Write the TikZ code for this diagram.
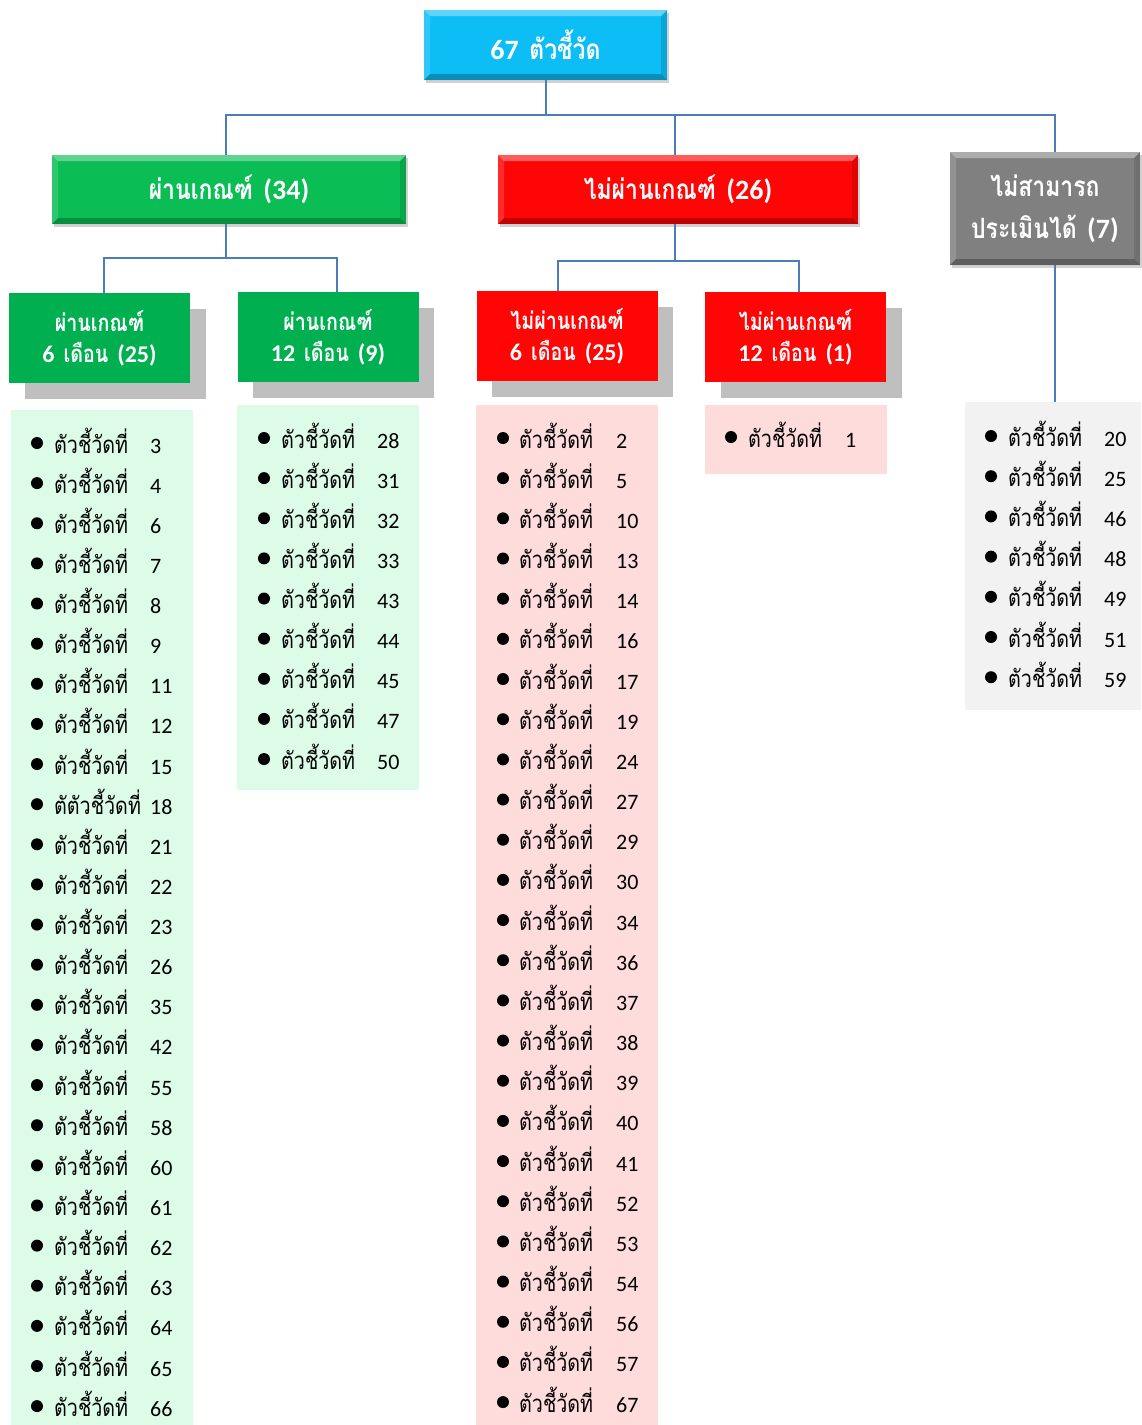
\documentclass[tikz,border=0pt]{standalone}
\usepackage{fontspec}
\usepackage{graphicx}
\usetikzlibrary{shadows,calc}
\newfontfamily\thai[Script=Thai]{Loma}
\newfontfamily\lat{Carlito}
\definecolor{cyanbox}{RGB}{12,190,245}
\definecolor{greenbox}{RGB}{10,190,85}
\definecolor{subgreen}{RGB}{0,176,80}
\definecolor{redbox}{RGB}{255,5,5}
\definecolor{graybox}{RGB}{128,128,128}
\definecolor{shadowgray}{RGB}{191,191,191}
\definecolor{lgreen}{RGB}{220,252,232}
\definecolor{lpink}{RGB}{255,220,220}
\definecolor{lgray}{RGB}{242,242,242}
\definecolor{conncol}{RGB}{74,126,187}
\newcommand\thx[1]{\scalebox{0.82}[1]{\thai #1}}
\tikzset{
  bevel/.style={path picture={
    \fill[white,opacity=.35] (path picture bounding box.north west) -- (path picture bounding box.north east)
      -- ([xshift=-6pt,yshift=-6pt]path picture bounding box.north east) -- ([xshift=6pt,yshift=-6pt]path picture bounding box.north west) -- cycle;
    \fill[white,opacity=.15] (path picture bounding box.north west) -- (path picture bounding box.south west)
      -- ([xshift=6pt,yshift=6pt]path picture bounding box.south west) -- ([xshift=6pt,yshift=-6pt]path picture bounding box.north west) -- cycle;
    \fill[black,opacity=.25] (path picture bounding box.south west) -- (path picture bounding box.south east)
      -- ([xshift=-6pt,yshift=6pt]path picture bounding box.south east) -- ([xshift=6pt,yshift=6pt]path picture bounding box.south west) -- cycle;
    \fill[black,opacity=.12] (path picture bounding box.north east) -- (path picture bounding box.south east)
      -- ([xshift=-6pt,yshift=6pt]path picture bounding box.south east) -- ([xshift=-6pt,yshift=-6pt]path picture bounding box.north east) -- cycle;
  }},
  head/.style={text=white, font=\bfseries\fontsize{28}{34}\selectfont, align=center, inner sep=0pt, bevel,
    drop shadow={opacity=.35, shadow xshift=2pt, shadow yshift=-3pt}},
  subbox/.style={text=white, font=\bfseries\fontsize{24}{31}\selectfont, align=center, inner sep=0pt,
    minimum width=181pt, minimum height=90pt,
    drop shadow={shadow xshift=15.5pt, shadow yshift=-16pt, fill=shadowgray, opacity=1}},
  listbox/.style={inner sep=0pt, draw=none},
  connector/.style={draw=conncol, line width=2pt},
  bul/.style={circle, fill=black, inner sep=0pt, minimum size=12pt},
  itext/.style={anchor=base west, inner sep=0pt, font=\fontsize{24}{28}\selectfont},
  inum/.style={anchor=base west, inner sep=0pt, font=\lat\fontsize{22}{26}\selectfont},
}
\begin{document}
\begin{tikzpicture}[x=1pt,y=-1pt]
\useasboundingbox[fill=white] (0,0) rectangle (1142,1425);

% list backgrounds
\node[listbox, fill=lgreen, minimum width=182pt, minimum height=1015pt] (l1) at (102,917.5) {};
\node[listbox, fill=lgreen, minimum width=182pt, minimum height=385pt] (l2) at (328,597.5) {};
\node[listbox, fill=lpink, minimum width=182pt, minimum height=1020pt] (l3) at (567,915) {};
\node[listbox, fill=lpink, minimum width=182pt, minimum height=69pt] (l4) at (796,439.5) {};
\node[listbox, fill=lgray, minimum width=176pt, minimum height=308pt] (l5) at (1053,556) {};

% top level
\node[head, fill=cyanbox, minimum width=243pt, minimum height=70pt] (top) at (545.5,45) {{\lat 67} \thx{ตัวชี้วัด}};
\node[head, fill=greenbox, minimum width=354pt, minimum height=69pt] (pass) at (229,189.5) {\thx{ผ่านเกณฑ์} {\lat (34)}};
\node[head, fill=redbox, minimum width=360pt, minimum height=69pt] (fail) at (678,189.5) {\thx{ไม่ผ่านเกณฑ์} {\lat (26)}};
\node[head, fill=graybox, minimum width=190pt, minimum height=113pt, font=\bfseries\fontsize{28}{42}\selectfont] (na) at (1045,208.5) {\thx{ไม่สามารถ}\\\thx{ประเมินได้} {\lat (7)}};

% sub level
\node[subbox, fill=subgreen] (p6) at (99.5,338) {\thx{ผ่านเกณฑ์}\\{\lat 6} \thx{เดือน} {\lat (25)}};
\node[subbox, fill=subgreen] (p12) at (328,337) {\thx{ผ่านเกณฑ์}\\{\lat 12} \thx{เดือน} {\lat (9)}};
\node[subbox, fill=redbox] (f6) at (567,336) {\thx{ไม่ผ่านเกณฑ์}\\{\lat 6} \thx{เดือน} {\lat (25)}};
\node[subbox, fill=redbox] (f12) at (795.5,337) {\thx{ไม่ผ่านเกณฑ์}\\{\lat 12} \thx{เดือน} {\lat (1)}};

% connectors
\draw[connector] (top.south) -- ++(0,35) -| ([xshift=-3pt]pass.north);
\draw[connector] (top.south) -- ++(0,35) -| ([xshift=-3pt]fail.north);
\draw[connector] (top.south) -- ++(0,35) -| ([xshift=10pt]na.north);
\draw[connector] ([xshift=-3pt]pass.south) -- ++(0,34) -| ([xshift=4.5pt]p6.north);
\draw[connector] ([xshift=-3pt]pass.south) -- ++(0,34) -| ([xshift=9pt]p12.north);
\draw[connector] ([xshift=-3pt]fail.south) -- ++(0,37) -| ([xshift=-9pt]f6.north);
\draw[connector] ([xshift=-3pt]fail.south) -- ++(0,37) -| ([xshift=3.5pt]f12.north);
\draw[connector] ([xshift=10pt]na.south) -- ([xshift=10pt]na.south |- l5.north);

% list 1
\foreach \n [count=\i from 0] in {3,4,6,7,8,9,11,12,15,18,21,22,23,26,35,42,55,58,60,61,62,63,64,65,66} {
  \pgfmathsetmacro\yy{443+40.13*\i}
  \ifnum\n=18 \def\pre{ตัตัวชี้วัดที่}\else\def\pre{ตัวชี้วัดที่}\fi
  \node[bul] (a\i) at (37,\yy) {};
  \node[itext] (at\i) at (54,\yy+10) {\thx{\pre}};
  \node[inum] (an\i) at (150,\yy+10) {\n};
}
% list 2
\foreach \n [count=\i from 0] in {28,31,32,33,43,44,45,47,50} {
  \pgfmathsetmacro\yy{438+40.13*\i}
  \node[bul] (b\i) at (264,\yy) {};
  \node[itext] (bt\i) at (281,\yy+10) {\thx{ตัวชี้วัดที่}};
  \node[inum] (bn\i) at (377,\yy+10) {\n};
}
% list 3
\foreach \n [count=\i from 0] in {2,5,10,13,14,16,17,19,24,27,29,30,34,36,37,38,39,40,41,52,53,54,56,57,67} {
  \pgfmathsetmacro\yy{438+40.17*\i}
  \node[bul] (c\i) at (503,\yy) {};
  \node[itext] (ct\i) at (519,\yy+10) {\thx{ตัวชี้วัดที่}};
  \node[inum] (cn\i) at (616,\yy+10) {\n};
}
% list 4
\node[bul] (d0) at (731,437) {};
\node[itext] (dt0) at (748,447) {\thx{ตัวชี้วัดที่}};
\node[inum] (dn0) at (845,447) {1};
% list 5
\foreach \n [count=\i from 0] in {20,25,46,48,49,51,59} {
  \pgfmathsetmacro\yy{436+40.2*\i}
  \node[bul] (e\i) at (991,\yy) {};
  \node[itext] (et\i) at (1008,\yy+10) {\thx{ตัวชี้วัดที่}};
  \node[inum] (en\i) at (1104,\yy+10) {\n};
}
\end{tikzpicture}
\end{document}
